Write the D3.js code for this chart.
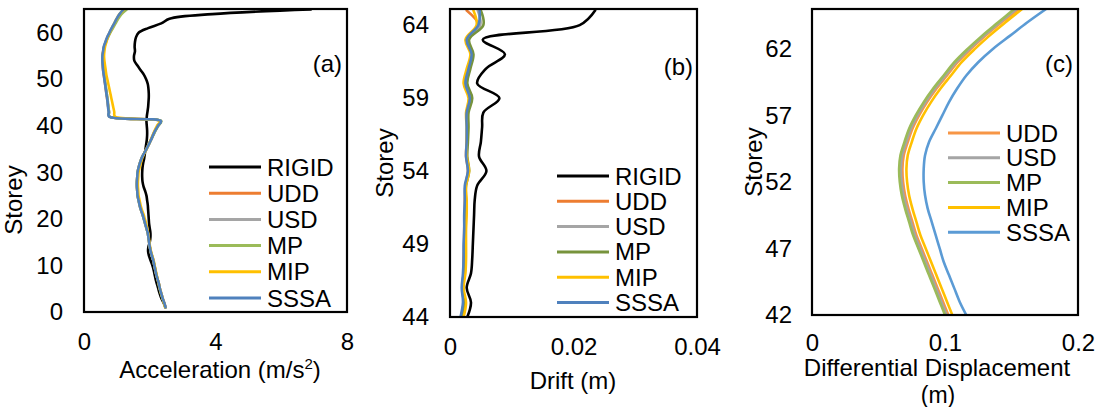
<!DOCTYPE html>
<html>
<head>
<meta charset="utf-8">
<script src="https://cdn.jsdelivr.net/npm/d3@7"></script>
<style>
  body { margin: 0; background: #fff; }
  svg text { font-family: "Liberation Sans", Arial, sans-serif; fill: #000; }
</style>
</head>
<body>
<svg id="fig" width="1101" height="407"></svg>
<script>
// ---------- (a) peak floor acceleration, storeys 1..65 ----------
const storeysA = d3.range(1, 66);
const rigidA = [
  2.48,2.42,2.35,2.30,2.26,2.22,2.18,2.15,2.12,2.08,
  2.03,1.98,1.95,1.96,2.00,2.02,2.02,2.00,1.98,1.97,
  1.96,1.95,1.94,1.92,1.90,1.86,1.81,1.78,1.77,1.77,
  1.78,1.80,1.83,1.85,1.87,1.89,1.91,1.92,1.92,1.91,
  1.90,1.91,1.93,1.95,1.96,1.97,1.97,1.96,1.94,1.89,
  1.82,1.72,1.62,1.53,1.52,1.55,1.54,1.55,1.58,1.66,
  1.95,2.35,2.60,3.90,6.90];
const uddA = [
  2.48,2.44,2.39,2.35,2.31,2.28,2.24,2.20,2.17,2.14,
  2.11,2.07,2.03,2.00,1.98,1.96,1.94,1.90,1.86,1.82,
  1.78,1.73,1.69,1.66,1.63,1.62,1.61,1.61,1.62,1.63,
  1.66,1.70,1.75,1.82,1.90,1.97,2.04,2.10,2.17,2.25,
  2.34,0.77,0.76,0.74,0.72,0.70,0.68,0.66,0.64,0.62,
  0.60,0.58,0.57,0.56,0.56,0.58,0.61,0.66,0.71,0.78,
  0.85,0.93,1.01,1.10,1.24];
const usdA = [
  2.48,2.44,2.39,2.35,2.31,2.28,2.24,2.20,2.17,2.14,
  2.11,2.07,2.03,2.00,1.98,1.96,1.94,1.90,1.86,1.82,
  1.78,1.73,1.69,1.66,1.63,1.62,1.61,1.61,1.62,1.63,
  1.66,1.70,1.75,1.82,1.90,1.97,2.04,2.10,2.17,2.25,
  2.34,0.77,0.76,0.74,0.72,0.71,0.69,0.67,0.65,0.63,
  0.61,0.59,0.58,0.57,0.57,0.59,0.61,0.66,0.72,0.79,
  0.86,0.94,1.02,1.12,1.27];
const mpA = [
  2.47,2.43,2.38,2.34,2.30,2.27,2.24,2.20,2.17,2.14,
  2.11,2.07,2.03,2.00,1.98,1.96,1.94,1.90,1.86,1.82,
  1.78,1.73,1.69,1.66,1.63,1.62,1.61,1.61,1.62,1.63,
  1.66,1.70,1.75,1.82,1.90,1.97,2.04,2.11,2.18,2.26,
  2.35,0.77,0.76,0.74,0.73,0.71,0.69,0.67,0.65,0.63,
  0.61,0.59,0.58,0.57,0.57,0.59,0.62,0.67,0.73,0.80,
  0.88,0.96,1.04,1.14,1.30];
const mipA = [
  2.47,2.43,2.39,2.35,2.31,2.28,2.24,2.21,2.18,2.15,
  2.12,2.08,2.04,2.01,1.99,1.97,1.95,1.92,1.89,1.85,
  1.81,1.76,1.72,1.69,1.66,1.65,1.64,1.64,1.65,1.66,
  1.69,1.73,1.77,1.83,1.90,1.97,2.03,2.09,2.15,2.22,
  2.30,0.94,0.92,0.89,0.86,0.83,0.80,0.77,0.74,0.71,
  0.68,0.66,0.64,0.62,0.61,0.62,0.64,0.68,0.72,0.78,
  0.85,0.92,0.99,1.08,1.21];
const sssaA = [
  2.48,2.44,2.39,2.35,2.31,2.28,2.24,2.20,2.17,2.14,
  2.11,2.07,2.03,2.00,1.98,1.96,1.94,1.90,1.86,1.82,
  1.78,1.73,1.69,1.66,1.63,1.62,1.61,1.61,1.62,1.63,
  1.66,1.70,1.75,1.82,1.90,1.97,2.04,2.10,2.17,2.25,
  2.34,0.76,0.75,0.73,0.72,0.70,0.68,0.66,0.64,0.62,
  0.60,0.58,0.57,0.56,0.56,0.58,0.60,0.65,0.70,0.77,
  0.84,0.92,0.99,1.08,1.20];
const xTicksA = [0, 4, 8];
const yTicksA = [0, 10, 20, 30, 40, 50, 60];

// ---------- (b) inter-storey drift, storeys 44..65 ----------
const storeysB = d3.range(44, 66);
const rigidB = [0.0028,0.0034,0.0027,0.0034,0.0036,0.0037,0.0038,0.0039,0.0040,0.0044,0.0059,
                0.0047,0.0050,0.0052,0.0054,0.0080,0.0044,0.0058,0.0089,0.0053,0.0210,0.0235];
const uddB  = [0.0018,0.0022,0.0020,0.0022,0.0022,0.0023,0.0023,0.0024,0.0024,0.0025,0.0029,
               0.0026,0.0027,0.0028,0.0028,0.0033,0.0026,0.0030,0.0035,0.0027,0.0046,0.0027];
const usdB  = [0.0018,0.0022,0.0020,0.0022,0.0023,0.0023,0.0024,0.0024,0.0025,0.0025,0.0030,
               0.0027,0.0028,0.0028,0.0029,0.0034,0.0027,0.0031,0.0036,0.0029,0.0049,0.0045];
const mpB   = [0.0019,0.0024,0.0021,0.0023,0.0023,0.0024,0.0024,0.0025,0.0025,0.0026,0.0031,
               0.0028,0.0029,0.0030,0.0030,0.0036,0.0028,0.0033,0.0038,0.0031,0.0054,0.0050];
const mipB  = [0.0022,0.0026,0.0022,0.0025,0.0026,0.0026,0.0026,0.0027,0.0027,0.0026,0.0031,
               0.0027,0.0027,0.0027,0.0026,0.0030,0.0022,0.0027,0.0033,0.0025,0.0043,0.0038];
const sssaB = [0.0017,0.0021,0.0019,0.0021,0.0022,0.0022,0.0023,0.0023,0.0024,0.0024,0.0029,
               0.0026,0.0027,0.0027,0.0027,0.0032,0.0025,0.0030,0.0035,0.0027,0.0046,0.0048];
const xTicksB = [0, 0.02, 0.04];
const yTicksB = [44, 49, 54, 59, 64];

// ---------- (c) differential displacement, storeys 42..65 ----------
const storeysC = d3.range(42, 66);
const uddC  = [0.1025,0.0985,0.0945,0.0905,0.0865,0.0825,0.0785,0.0755,0.0725,0.0700,0.0685,0.0680,
               0.0690,0.0720,0.0755,0.0805,0.0865,0.0935,0.1015,0.1095,0.1195,0.1305,0.1425,0.1555];
const usdC  = [0.1012,0.0972,0.0933,0.0893,0.0853,0.0813,0.0773,0.0743,0.0713,0.0688,0.0673,0.0668,
               0.0678,0.0708,0.0743,0.0793,0.0853,0.0923,0.1003,0.1083,0.1183,0.1293,0.1413,0.1538];
const mpC   = [0.1000,0.0960,0.0920,0.0880,0.0840,0.0800,0.0760,0.0730,0.0700,0.0675,0.0660,0.0655,
               0.0665,0.0695,0.0730,0.0780,0.0840,0.0910,0.0990,0.1070,0.1170,0.1280,0.1400,0.1520];
const mipC  = [0.1055,0.1015,0.0975,0.0935,0.0895,0.0855,0.0815,0.0785,0.0755,0.0730,0.0715,0.0710,
               0.0720,0.0750,0.0785,0.0835,0.0895,0.0965,0.1045,0.1125,0.1225,0.1335,0.1455,0.1580];
const sssaC = [0.1160,0.1110,0.1070,0.1030,0.0990,0.0960,0.0930,0.0900,0.0870,0.0850,0.0840,0.0840,
               0.0850,0.0880,0.0930,0.0980,0.1030,0.1090,0.1160,0.1250,0.1360,0.1490,0.1620,0.1760];
const xTicksC = [0, 0.1, 0.2];
const yTicksC = [42, 47, 52, 57, 62];

// ---------- drawing ----------
const FS = 24;
const svg = d3.select("#fig");

function drawPanel(cfg, idx) {
  const g = svg.append("g");
  const x = d3.scaleLinear().domain(cfg.xDomain).range([cfg.box.left, cfg.box.right]);
  const y = d3.scaleLinear().domain(cfg.yDomain).range([cfg.box.bottom, cfg.box.top]);

  const clipId = "clip" + idx;
  g.append("clipPath").attr("id", clipId)
    .append("rect")
    .attr("x", cfg.box.left).attr("y", cfg.box.top)
    .attr("width", cfg.box.right - cfg.box.left)
    .attr("height", cfg.box.bottom - cfg.box.top);

  const line = d3.line()
    .x(d => x(d.v))
    .y(d => y(d.s))
    .curve(d3.curveCatmullRom.alpha(0.5));

  const plot = g.append("g").attr("clip-path", `url(#${clipId})`);
  cfg.series.forEach(s => {
    const pts = cfg.storeys.map((st, i) => ({ s: st, v: s.values[i] }));
    plot.append("path")
      .attr("d", line(pts))
      .attr("fill", "none")
      .attr("stroke", s.color)
      .attr("stroke-width", 2.6)
      .attr("stroke-linejoin", "round")
      .attr("stroke-linecap", "round");
  });

  // plot frame
  g.append("rect")
    .attr("x", cfg.box.left).attr("y", cfg.box.top)
    .attr("width", cfg.box.right - cfg.box.left)
    .attr("height", cfg.box.bottom - cfg.box.top)
    .attr("fill", "none").attr("stroke", "#000").attr("stroke-width", 2.2);

  // axes (labels only, no tick marks)
  const ax = g.append("g")
    .attr("transform", `translate(0,${cfg.box.bottom})`)
    .call(d3.axisBottom(x).tickValues(cfg.xTicks).tickSize(0).tickPadding(cfg.xPad)
      .tickFormat(d => String(d)));
  const ay = g.append("g")
    .attr("transform", `translate(${cfg.box.left},0)`)
    .call(d3.axisLeft(y).tickValues(cfg.yTicks).tickSize(0).tickPadding(cfg.yPad)
      .tickFormat(d => String(d)));
  [ax, ay].forEach(a => {
    a.select(".domain").remove();
    a.selectAll("text").attr("font-size", FS).attr("fill", "#000")
      .attr("font-family", '"Liberation Sans", Arial, sans-serif');
  });

  // axis titles (a trailing superscript part is set smaller and raised)
  cfg.xTitle.forEach(t => {
    const tx = g.append("text").attr("x", t.x).attr("y", t.y)
      .attr("text-anchor", "middle").attr("font-size", t.size || FS);
    tx.append("tspan").text(t.text);
    if (t.sup) {
      tx.append("tspan").attr("font-size", 15).attr("dy", -9).text(t.sup);
      tx.append("tspan").attr("dy", 9).text(t.after);
    }
  });
  g.append("text")
    .attr("transform", `translate(${cfg.yTitle.x},${cfg.yTitle.y}) rotate(-90)`)
    .attr("text-anchor", "middle").attr("font-size", FS).text("Storey");

  // panel tag
  g.append("text").attr("x", cfg.tag.x).attr("y", cfg.tag.y)
    .attr("text-anchor", "end").attr("font-size", FS).text(cfg.tag.text);

  // legend
  const lg = g.append("g");
  cfg.series.forEach((s, i) => {
    const ry = cfg.legend.y + i * cfg.legend.dy;
    lg.append("line")
      .attr("x1", cfg.legend.x1).attr("x2", cfg.legend.x2)
      .attr("y1", ry).attr("y2", ry)
      .attr("stroke", s.color).attr("stroke-width", 3);
    lg.append("text")
      .attr("x", cfg.legend.tx).attr("y", ry + 8.5)
      .attr("font-size", FS).text(s.name);
  });
}

const panels = [
  {
    box: { left: 84, right: 347, top: 9, bottom: 312 },
    xDomain: [0, 8], yDomain: [0, 65.1],
    xTicks: xTicksA, yTicks: yTicksA, xPad: 21, yPad: 21,
    storeys: storeysA,
    series: [
      { name: "RIGID", color: "#000000", values: rigidA },
      { name: "UDD",   color: "#ED7D31", values: uddA },
      { name: "USD",   color: "#A5A5A5", values: usdA },
      { name: "MP",    color: "#9BBB59", values: mpA },
      { name: "MIP",   color: "#FFC000", values: mipA },
      { name: "SSSA",  color: "#4F81BD", values: sssaA }
    ],
    xTitle: [{ text: "Acceleration (m/s", sup: "2", after: ")", x: 220, y: 378 }],
    yTitle: { x: 22, y: 200 },
    tag: { text: "(a)", x: 342, y: 72 },
    legend: { x1: 209, x2: 261, tx: 267, y: 167, dy: 26.2 }
  },
  {
    box: { left: 450, right: 697, top: 9, bottom: 317 },
    xDomain: [0, 0.04], yDomain: [44, 65.1],
    xTicks: xTicksB, yTicks: yTicksB, xPad: 21, yPad: 21,
    storeys: storeysB,
    series: [
      { name: "RIGID", color: "#000000", values: rigidB },
      { name: "UDD",   color: "#ED7D31", values: uddB },
      { name: "USD",   color: "#A5A5A5", values: usdB },
      { name: "MP",    color: "#77933C", values: mpB },
      { name: "MIP",   color: "#FFC000", values: mipB },
      { name: "SSSA",  color: "#4F81BD", values: sssaB }
    ],
    xTitle: [{ text: "Drift (m)", x: 573, y: 389 }],
    yTitle: { x: 393, y: 163 },
    tag: { text: "(b)", x: 693, y: 75 },
    legend: { x1: 557, x2: 609, tx: 615, y: 176, dy: 25.3 }
  },
  {
    box: { left: 812, right: 1078, top: 9, bottom: 315 },
    xDomain: [0, 0.2], yDomain: [42, 65],
    xTicks: xTicksC, yTicks: yTicksC, xPad: 19, yPad: 20,
    storeys: storeysC,
    series: [
      { name: "UDD",  color: "#F79646", values: uddC },
      { name: "USD",  color: "#A5A5A5", values: usdC },
      { name: "MP",   color: "#9BBB59", values: mpC },
      { name: "MIP",  color: "#FFC000", values: mipC },
      { name: "SSSA", color: "#5B9BD5", values: sssaC }
    ],
    xTitle: [
      { text: "Differential Displacement", x: 937, y: 376 },
      { text: "(m)", x: 938, y: 403, size: 23 }
    ],
    yTitle: { x: 762, y: 162 },
    tag: { text: "(c)", x: 1073, y: 72 },
    legend: { x1: 948, x2: 1000, tx: 1006, y: 133, dy: 24.8 }
  }
];

panels.forEach((p, i) => drawPanel(p, i));
</script>
</body>
</html>
